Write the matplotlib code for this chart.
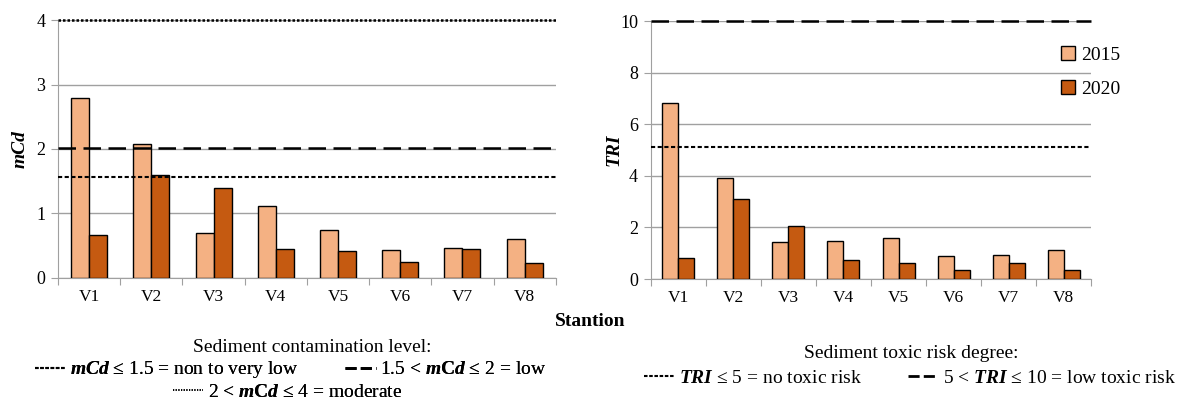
import matplotlib
matplotlib.use('Agg')
import matplotlib.pyplot as plt
import numpy as np
from matplotlib.lines import Line2D

# fuente tipo Times
plt.rcParams['font.family'] = ['Liberation Serif', 'DejaVu Serif']
plt.rcParams['mathtext.fontset'] = 'custom'
plt.rcParams['mathtext.rm'] = 'Liberation Serif'
plt.rcParams['mathtext.it'] = 'Liberation Serif:italic'
plt.rcParams['mathtext.bf'] = 'Liberation Serif:bold'
plt.rcParams['mathtext.bfit'] = 'Liberation Serif:italic:bold'

stations = ['V1', 'V2', 'V3', 'V4', 'V5', 'V6', 'V7', 'V8']
years = ['2015', '2020']
mcd_2015 = [2.79, 2.08, 0.70, 1.11, 0.75, 0.44, 0.46, 0.61]
mcd_2020 = [0.67, 1.60, 1.40, 0.45, 0.42, 0.25, 0.45, 0.23]
tri_2015 = [6.82, 3.91, 1.43, 1.47, 1.59, 0.88, 0.93, 1.12]
tri_2020 = [0.81, 3.10, 2.05, 0.74, 0.64, 0.34, 0.62, 0.34]
mcd_limits = [1.56, 2.01, 4.0]
tri_limits = [5.1, 10.0]

c15 = '#F4B183'
c20 = '#C55A11'
grey = '#a0a0a0'

fig = plt.figure(figsize=(11.85, 4.05), dpi=100)
ax1 = fig.add_axes([0.049, 0.3136, 0.420, 0.637])
ax2 = fig.add_axes([0.549, 0.311, 0.372, 0.637])

def draw_bars(ax, v15, v20, ymax, step, ylabel, lx):
    x = np.arange(len(stations)) + 0.5
    w = 0.29
    ax.bar(x - w/2, v15, w, color=c15, edgecolor='black', linewidth=1, label=years[0], zorder=3)
    ax.bar(x + w/2, v20, w, color=c20, edgecolor='black', linewidth=1, label=years[1], zorder=3)
    ax.set_xlim(0, len(stations))
    ax.set_ylim(0, ymax)
    ax.set_yticks(np.arange(0, ymax + 0.01, step))
    ax.set_yticklabels([str(int(t)) for t in np.arange(0, ymax + 0.01, step)])
    ax.yaxis.grid(True, color=grey, linewidth=1, zorder=0)
    ax.set_axisbelow(True)
    # ticks entre categorias, etiquetas al centro
    ax.set_xticks(np.arange(0, len(stations) + 1))
    ax.set_xticklabels([])
    ax.set_xticks(x, minor=True)
    ax.set_xticklabels(stations, minor=True)
    ax.tick_params(axis='x', which='major', length=5, color=grey, direction='out')
    ax.tick_params(axis='x', which='minor', length=0, labelsize=12.5, pad=8)
    ax.tick_params(axis='y', length=5, color=grey, labelsize=13, pad=4)
    for s in ['top', 'right']:
        ax.spines[s].set_visible(False)
    for s in ['left', 'bottom']:
        ax.spines[s].set_color(grey)
    ax.set_ylabel(ylabel, fontsize=14, fontweight='bold', fontstyle='italic')
    ax.yaxis.set_label_coords(lx, 0.5)

draw_bars(ax1, mcd_2015, mcd_2020, 4, 1, 'mCd', -0.060)
draw_bars(ax2, tri_2015, tri_2020, 10, 2, 'TRI', -0.064)

# lineas de limite
ax1.axhline(mcd_limits[0], color='black', linestyle=(0, (2, 1.2)), linewidth=1.5, zorder=4)
ax1.axhline(mcd_limits[1], color='black', linestyle=(0, (7, 3)), linewidth=1.8, zorder=4)
ax1.axhline(mcd_limits[2], color='black', linestyle=(0, (1, 0.8)), linewidth=1.8, zorder=4, clip_on=False)
ax2.axhline(tri_limits[0], color='black', linestyle=(0, (2, 1.2)), linewidth=1.5, zorder=4)
ax2.axhline(tri_limits[1], color='black', linestyle=(0, (7, 3)), linewidth=1.8, zorder=4, clip_on=False)

ax2.legend(loc='upper left', bbox_to_anchor=(0.91, 0.94), frameon=False, fontsize=14,
           handlelength=0.7, handleheight=0.7, handletextpad=0.3, labelspacing=0.85,
           borderpad=0)

fig.text(590/1185, 1 - 322/405, 'Stantion', fontsize=14, fontweight='bold', ha='center', va='center')

# leyenda de niveles abajo
short = Line2D([], [], color='black', linestyle=(0, (1.7, 0.8)), linewidth=1.5)
longd = Line2D([], [], color='black', linestyle=(0, (4, 1.5)), linewidth=2)
dots = Line2D([], [], color='black', linestyle=(0, (0.7, 0.9)), linewidth=1.2)
kw = dict(frameon=False, fontsize=14, handlelength=1.55, handletextpad=0.25,
          columnspacing=2.4, borderpad=0, borderaxespad=0, loc='center')

fig.text(312/1185, 1 - 347/405, 'Sediment contamination level:', fontsize=14, ha='center', va='center')
leg1 = fig.legend([short, longd],
                  [r'$\mathbfit{mCd}$ ≤ 1.5 = non to very low', r'1.5 < $\mathbfit{m}\mathbf{C}\mathbfit{d}$ ≤ 2 = low'],
                  ncol=2, bbox_to_anchor=(291/1185, 1 - 370/405), **kw)
fig.add_artist(leg1)
leg2 = fig.legend([dots], [r'2 < $\mathbfit{m}\mathbf{C}\mathbfit{d}$ ≤ 4 = moderate'],
                  bbox_to_anchor=(288/1185, 1 - 392/405), **kw)
fig.add_artist(leg2)

fig.text(911/1185, 1 - 354/405, 'Sediment toxic risk degree:', fontsize=14, ha='center', va='center')
leg3 = fig.legend([short, longd],
                  [r'$\mathbfit{TRI}$ ≤ $\mathit{5}$ = no toxic risk', r'5 < $\mathbfit{TRI}$ ≤ 10 = low toxic risk'],
                  ncol=2, bbox_to_anchor=(910/1185, 1 - 378/405), **kw)

fig.savefig('out.png', dpi=100)
